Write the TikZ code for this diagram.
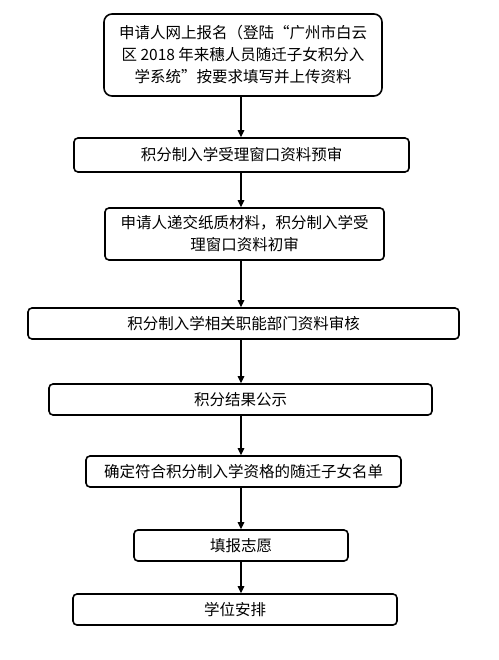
\documentclass[tikz,border=0pt]{standalone}
\usepackage{fontspec}
\newfontfamily\cjk{Noto Sans CJK SC}
\usetikzlibrary{arrows.meta}

\begin{document}
\begin{tikzpicture}[x=1pt,y=-1pt,font=\cjk\fontsize{15.5}{22}\selectfont,
 box/.style={draw,line width=1.6pt,rounded corners=4pt,align=center,inner sep=0pt},
 arr/.style={-{Triangle[length=7pt,width=6.5pt]},line width=1.2pt}]
\useasboundingbox (0,0) rectangle (498,660);
\coordinate (mid) at (241,0);
\node[box,rounded corners=8pt,minimum width=278pt,minimum height=82pt] (n1) at (243,55) {申请人网上报名（登陆“广州市白云\\区 2018 年来穗人员随迁子女积分入\\学系统”按要求填写并上传资料};
\node[box,minimum width=335pt,minimum height=34pt] (n2) at (241.5,155) {积分制入学受理窗口资料预审};
\node[box,minimum width=279pt,minimum height=52pt] (n3) at (244.5,234) {申请人递交纸质材料，积分制入学受\\理窗口资料初审};
\node[box,minimum width=431pt,minimum height=31pt] (n4) at (243.5,323.5) {积分制入学相关职能部门资料审核};
\node[box,minimum width=383pt,minimum height=31pt] (n5) at (240.5,399.5) {积分结果公示};
\node[box,minimum width=315pt,minimum height=31pt] (n6) at (243.5,471.5) {确定符合积分制入学资格的随迁子女名单};
\node[box,minimum width=214pt,minimum height=31pt] (n7) at (241,545.5) {填报志愿};
\node[box,minimum width=324pt,minimum height=31pt] (n8) at (235,609.5) {学位安排};
\draw[arr] (n1.south -| mid) -- (n2.north -| mid); \draw[arr] (n2.south -| mid) -- (n3.north -| mid);
\draw[arr] (n3.south -| mid) -- (n4.north -| mid); \draw[arr] (n4.south -| mid) -- (n5.north -| mid);
\draw[arr] (n5.south -| mid) -- (n6.north -| mid); \draw[arr] (n6.south -| mid) -- (n7.north -| mid);
\draw[arr] (n7.south -| mid) -- (n8.north -| mid);
\end{tikzpicture}
\end{document}
